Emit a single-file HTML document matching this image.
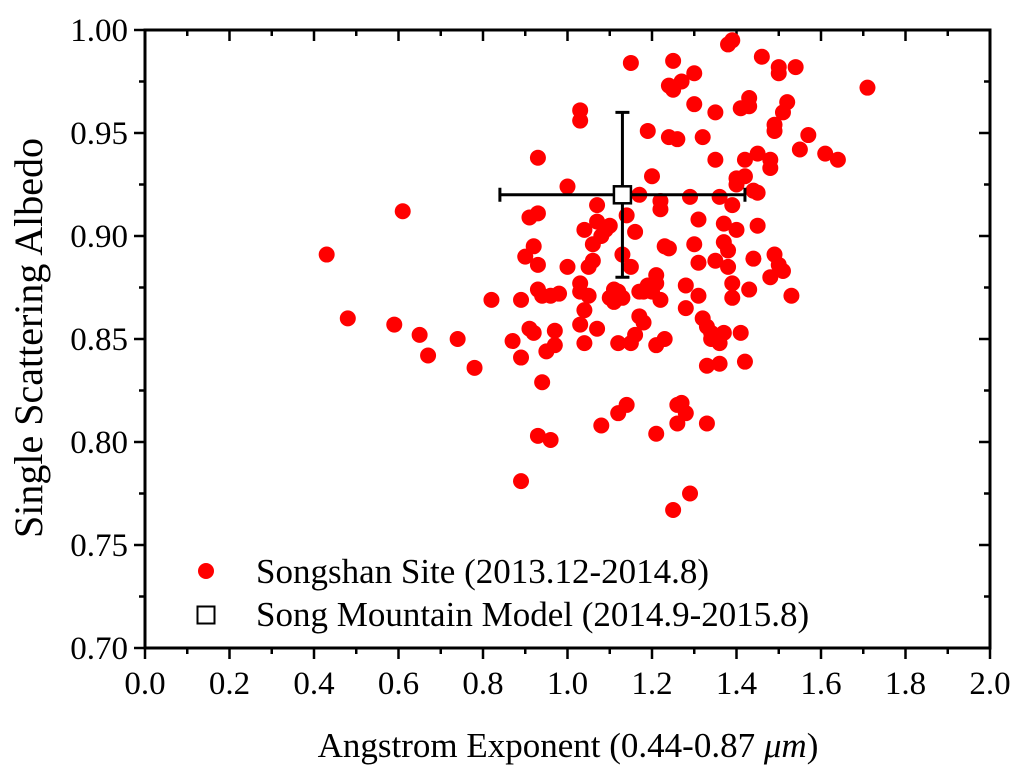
<!DOCTYPE html>
<html><head><meta charset="utf-8">
<style>
html,body{margin:0;padding:0;background:#fff;}
svg{display:block;font-family:"Liberation Serif",serif;}
</style></head>
<body>
<svg id="chart" width="1024" height="775" viewBox="0 0 1024 775">
<g id="ticks"></g>
<g id="points"></g>
<g id="model"></g>
<rect x="145" y="30" width="845" height="618" fill="none" stroke="#000" stroke-width="3"/>
<text x="568" y="757" font-size="35" text-anchor="middle">Angstrom Exponent (0.44-0.87 <tspan font-style="italic">μm</tspan>)</text>
<text transform="translate(42,338) rotate(-90)" font-size="40" text-anchor="middle">Single Scattering Albedo</text>
<g>
<circle cx="206" cy="571" r="8" fill="#ff0000"/>
<text x="256" y="583" font-size="35">Songshan Site (2013.12-2014.8)</text>
<rect x="197.5" y="606.5" width="17" height="17" fill="#fff" stroke="#000" stroke-width="2"/>
<text x="256" y="626" font-size="35">Song Mountain Model (2014.9-2015.8)</text>
</g>
</svg>
<script>
const xTicks=["0.0","0.2","0.4","0.6","0.8","1.0","1.2","1.4","1.6","1.8","2.0"];
const yTicks=["0.70","0.75","0.80","0.85","0.90","0.95","1.00"];
const aeVals=[0.43,0.48,0.59,0.65,0.67,0.61,0.74,0.78,0.82,0.87,0.89,0.89,0.89,0.90,0.91,0.91,0.92,0.92,0.93,0.93,0.93,0.93,0.93,0.94,0.94,0.95,0.96,0.96,0.97,0.97,0.98,1.00,1.00,1.03,1.03,1.03,1.03,1.03,1.04,1.04,1.04,1.05,1.05,1.06,1.06,1.07,1.07,1.07,1.08,1.08,1.09,1.10,1.10,1.11,1.11,1.12,1.12,1.12,1.13,1.13,1.14,1.14,1.15,1.15,1.15,1.16,1.16,1.17,1.17,1.17,1.18,1.18,1.19,1.19,1.20,1.20,1.21,1.21,1.21,1.21,1.22,1.22,1.22,1.23,1.23,1.24,1.24,1.24,1.25,1.25,1.25,1.26,1.26,1.26,1.27,1.27,1.28,1.28,1.28,1.29,1.29,1.30,1.30,1.30,1.31,1.31,1.31,1.32,1.32,1.33,1.33,1.33,1.34,1.34,1.35,1.35,1.35,1.36,1.36,1.36,1.37,1.37,1.37,1.38,1.38,1.38,1.39,1.39,1.39,1.39,1.40,1.40,1.40,1.41,1.41,1.42,1.42,1.42,1.43,1.43,1.43,1.44,1.44,1.45,1.45,1.45,1.46,1.48,1.48,1.48,1.49,1.49,1.49,1.50,1.50,1.50,1.51,1.51,1.52,1.53,1.54,1.55,1.57,1.61,1.64,1.71];
const ssaVals=[0.891,0.860,0.857,0.852,0.842,0.912,0.850,0.836,0.869,0.849,0.841,0.781,0.869,0.890,0.855,0.909,0.895,0.853,0.911,0.886,0.874,0.803,0.938,0.829,0.871,0.844,0.801,0.871,0.854,0.847,0.872,0.924,0.885,0.961,0.956,0.857,0.873,0.877,0.864,0.848,0.903,0.885,0.871,0.888,0.896,0.907,0.855,0.915,0.900,0.808,0.903,0.905,0.870,0.874,0.868,0.873,0.848,0.814,0.870,0.891,0.910,0.818,0.885,0.848,0.984,0.852,0.902,0.873,0.861,0.920,0.858,0.873,0.876,0.951,0.929,0.873,0.877,0.847,0.881,0.804,0.913,0.869,0.917,0.850,0.895,0.973,0.948,0.894,0.985,0.971,0.767,0.947,0.818,0.809,0.975,0.819,0.814,0.865,0.876,0.919,0.775,0.964,0.896,0.979,0.871,0.908,0.887,0.948,0.860,0.837,0.809,0.856,0.850,0.853,0.937,0.888,0.960,0.848,0.838,0.919,0.906,0.897,0.853,0.993,0.885,0.893,0.995,0.877,0.870,0.915,0.928,0.925,0.903,0.962,0.853,0.839,0.929,0.937,0.967,0.963,0.874,0.889,0.922,0.905,0.921,0.940,0.987,0.937,0.933,0.880,0.951,0.954,0.891,0.979,0.886,0.982,0.960,0.883,0.965,0.871,0.982,0.942,0.949,0.940,0.937,0.972];
const modelX=[1.13], modelY=[0.92], modelXErr=[0.29], modelYErr=[0.04];

const X0=145,X1=990,Y0=648,Y1=30;
const sx=v=>X0+(v-0)/(2.0-0)*(X1-X0);
const sy=v=>Y0-(v-0.70)/(1.00-0.70)*(Y0-Y1);
const NS="http://www.w3.org/2000/svg";
function mk(tag,attrs,parent){const e=document.createElementNS(NS,tag);for(const k in attrs)e.setAttribute(k,attrs[k]);parent.appendChild(e);return e;}
const tg=document.getElementById('ticks');
xTicks.forEach((t,i)=>{
  const v=parseFloat(t),x=sx(v);
  const l=mk('line',{x1:x,x2:x,y1:Y0,y2:Y0+11,stroke:'#000','stroke-width':2.5},tg);
  
  
  const l2=mk('line',{x1:x,x2:x,y1:Y1,y2:Y1+11,stroke:'#000','stroke-width':2.5},tg);
  
  
  const tx=mk('text',{x:x,y:Y0+46,'font-size':33,'text-anchor':'middle'},tg);
  tx.textContent=t;
  
  
  if(i<xTicks.length-1){
    const xm=sx(v+0.1);
    const m=mk('line',{x1:xm,x2:xm,y1:Y0,y2:Y0+6,stroke:'#000','stroke-width':2.5},tg);
    
    
    const m2=mk('line',{x1:xm,x2:xm,y1:Y1,y2:Y1+6,stroke:'#000','stroke-width':2.5},tg);
    
    
  }
});
yTicks.forEach((t,i)=>{
  const v=parseFloat(t),y=sy(v);
  const l=mk('line',{x1:X0-11,x2:X0,y1:y,y2:y,stroke:'#000','stroke-width':2.5},tg);
  
  
  const l2=mk('line',{x1:X1-11,x2:X1,y1:y,y2:y,stroke:'#000','stroke-width':2.5},tg);
  
  
  const tx=mk('text',{x:X0-17,y:y+11,'font-size':33,'text-anchor':'end'},tg);
  tx.textContent=t;
  
  
  if(i<yTicks.length-1){
    const ym=sy(v+0.025);
    const m=mk('line',{x1:X0-6,x2:X0,y1:ym,y2:ym,stroke:'#000','stroke-width':2.5},tg);
    
    
    const m2=mk('line',{x1:X1-6,x2:X1,y1:ym,y2:ym,stroke:'#000','stroke-width':2.5},tg);
    
    
  }
});
const pg=document.getElementById('points');
aeVals.forEach((a,i)=>{
  const c=mk('circle',{cx:sx(a),cy:sy(ssaVals[i]),r:8,fill:'#ff0000'},pg);
  
  
});
const mg=document.getElementById('model');
modelX.forEach((mx,i)=>{
  const cx=sx(mx),cy=sy(modelY[i]);
  const xl=sx(mx-modelXErr[i]),xr=sx(mx+modelXErr[i]),yt=sy(modelY[i]+modelYErr[i]),yb=sy(modelY[i]-modelYErr[i]);
  const h=mk('path',{d:`M${xl},${cy}H${xr}M${xl},${cy-7}V${cy+7}M${xr},${cy-7}V${cy+7}`,stroke:'#000','stroke-width':3,fill:'none'},mg);
  
  
  const v=mk('path',{d:`M${cx},${yt}V${yb}M${cx-7},${yt}H${cx+7}M${cx-7},${yb}H${cx+7}`,stroke:'#000','stroke-width':3,fill:'none'},mg);
  
  
  const r=mk('rect',{x:cx-8.5,y:cy-8.5,width:17,height:17,fill:'#fff',stroke:'#000','stroke-width':2.5},mg);
  
  
});
</script>
</body></html>
